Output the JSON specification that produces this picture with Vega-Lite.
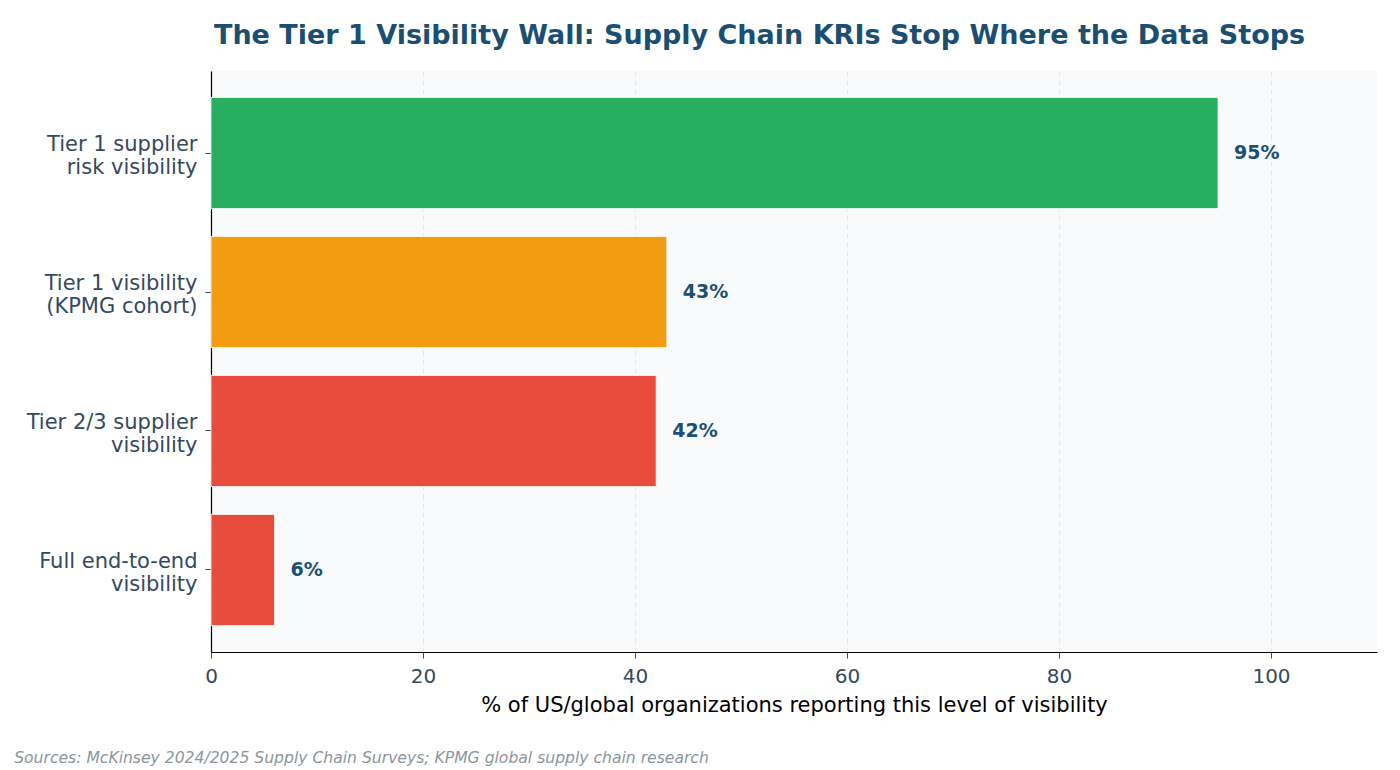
{
  "$schema": "https://vega.github.io/schema/vega-lite/v6.json",
  "background": "#ffffff",
  "padding": {"left": 14, "right": 5, "top": 22, "bottom": 5},
  "title": {
    "text": "The Tier 1 Visibility Wall: Supply Chain KRIs Stop Where the Data Stops",
    "font": "DejaVu Sans",
    "fontSize": 27,
    "fontWeight": "bold",
    "color": "#1b4f72",
    "anchor": "middle",
    "dx": 64,
    "offset": 21
  },
  "data": {
    "values": [
      {"metric": "Tier 1 supplier\nrisk visibility", "pct": 95, "status": "covered"},
      {"metric": "Tier 1 visibility\n(KPMG cohort)", "pct": 43, "status": "partial"},
      {"metric": "Tier 2/3 supplier\nvisibility", "pct": 42, "status": "gap"},
      {"metric": "Full end-to-end\nvisibility", "pct": 6, "status": "gap"}
    ]
  },
  "vconcat": [
    {
      "width": 1166,
      "height": 581,
      "title": {
        "text": "Sources: McKinsey 2024/2025 Supply Chain Surveys; KPMG global supply chain research",
        "orient": "bottom",
        "anchor": "start",
        "dx": -12,
        "font": "DejaVu Sans",
        "fontSize": 15.6,
        "fontStyle": "italic",
        "fontWeight": "normal",
        "color": "#8c969c",
        "offset": 36
      },
      "view": {"fill": "#f9fafc", "stroke": null},
      "encoding": {
        "y": {
          "field": "metric",
          "type": "nominal",
          "sort": null,
          "scale": {"paddingInner": 0.2, "paddingOuter": 0.19},
          "axis": {
            "title": null,
            "labelExpr": "split(datum.value, '\\n')",
            "labelFont": "DejaVu Sans",
            "labelFontSize": 21,
            "labelColor": "#34495e",
            "labelLineHeight": 23,
            "labelOffset": -8,
            "labelPadding": 8,
            "labelLimit": 400,
            "domainColor": "#000000",
            "domainWidth": 1.2,
            "tickColor": "#34495e",
            "tickSize": 6,
            "grid": false
          }
        },
        "x": {
          "field": "pct",
          "type": "quantitative",
          "scale": {"domain": [0, 110], "nice": false},
          "axis": {
            "title": "% of US/global organizations reporting this level of visibility",
            "titleFont": "DejaVu Sans",
            "titleFontSize": 21,
            "titleFontWeight": "normal",
            "titleColor": "#000000",
            "titlePadding": 8,
            "values": [0, 20, 40, 60, 80, 100],
            "labelFlush": false,
            "labelFont": "DejaVu Sans",
            "labelFontSize": 20,
            "labelColor": "#34495e",
            "labelPadding": 8,
            "domainColor": "#000000",
            "domainWidth": 1.2,
            "tickColor": "#34495e",
            "tickSize": 6,
            "grid": true,
            "gridColor": "#e3e7ed",
            "gridDash": [5, 4],
            "gridWidth": 1
          }
        }
      },
      "layer": [
        {
          "mark": {"type": "bar", "stroke": "#ffffff", "strokeWidth": 0.8},
          "encoding": {
            "color": {
              "field": "status",
              "type": "nominal",
              "scale": {"domain": ["covered", "partial", "gap"], "range": ["#27ae60", "#f39c12", "#e74c3c"]},
              "legend": null
            }
          }
        },
        {
          "transform": [{"calculate": "datum.pct + '%'", "as": "pct_label"}],
          "mark": {
            "type": "text",
            "align": "left",
            "baseline": "middle",
            "dx": 16,
            "font": "DejaVu Sans",
            "fontSize": 19,
            "fontWeight": "bold",
            "color": "#1b4f72"
          },
          "encoding": {"text": {"field": "pct_label"}}
        }
      ]
    }
  ]
}
